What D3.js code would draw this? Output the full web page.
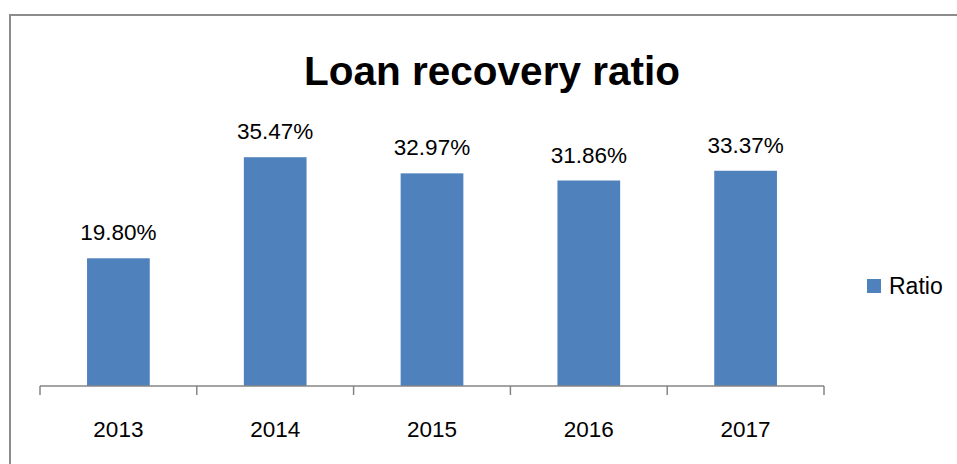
<!DOCTYPE html>
<html>
<head>
<meta charset="utf-8">
<script src="https://cdn.jsdelivr.net/npm/d3@7"></script>
<style>
  body { margin: 0; background: #fff; }
  text { font-family: "Liberation Sans", Arial, sans-serif; fill: #000; }
</style>
</head>
<body>
<div id="chart"></div>
<script>
// chart data
const years = ["2013", "2014", "2015", "2016", "2017"];
const ratios = [0.1980, 0.3547, 0.3297, 0.3186, 0.3337];
const seriesName = "Ratio";
const chartTitle = "Loan recovery ratio";

(function() {
  var width = 957,
      height = 464;

  const svg = d3.select("#chart").append("svg")
    .attr("width", width)
    .attr("height", height);

  // outer chart border (right and bottom fall outside the picture)
  svg.append("rect")
    .attr("x", 10).attr("y", 15)
    .attr("width", 960).attr("height", 470)
    .attr("fill", "none")
    .attr("stroke", "#8c8c8c")
    .attr("stroke-width", 2);

  // scales
  var x = d3.scaleBand()
    .domain(years)
    .range([40, 824])
    .paddingInner(0.6)
    .paddingOuter(0.3);

  var y = d3.scaleLinear()
    .domain([0, 0.40])
    .range([386, 128]);

  // title
  svg.append("text")
    .attr("x", 492).attr("y", 85)
    .attr("text-anchor", "middle")
    .style("font-size", "40.5px")
    .style("font-weight", "bold")
    .text(chartTitle);

  // bars
  svg.append("g")
    .selectAll("rect")
    .data(ratios)
    .join("rect")
    .attr("x", (d, i) => x(years[i]))
    .attr("y", d => y(d))
    .attr("width", x.bandwidth())
    .attr("height", d => y(0) - y(d))
    .attr("fill", "#4f81bd");

  // data labels
  svg.append("g")
    .selectAll("text")
    .data(ratios)
    .join("text")
    .attr("x", (d, i) => x(years[i]) + x.bandwidth() / 2)
    .attr("y", d => y(d) - 18)
    .attr("text-anchor", "middle")
    .style("font-size", "22.5px")
    .text(d => (d * 100).toFixed(2) + "%");

  // category axis
  var ax = svg.append("g")
    .attr("transform", "translate(0," + y(0) + ")");

  ax.append("line")
    .attr("x1", 40).attr("x2", 824)
    .attr("y1", 0).attr("y2", 0)
    .attr("stroke", "#868686")
    .attr("stroke-width", 1.5);

  // tick marks sit on the band edges
  var edges = years.map(d => x(d) - x.step() * x.paddingInner() / 2);
  edges.push(824);
  ax.selectAll(".edge")
    .data(edges)
    .join("line")
    .attr("class", "edge")
    .attr("x1", d => d).attr("x2", d => d)
    .attr("y1", 0).attr("y2", 9)
    .attr("stroke", "#868686")
    .attr("stroke-width", 1.5);

  svg.append("g")
    .selectAll("text")
    .data(years)
    .join("text")
    .attr("x", d => x(d) + x.bandwidth() / 2)
    .attr("y", 437)
    .attr("text-anchor", "middle")
    .style("font-size", "22.5px")
    .text(d => d);

  // legend
  var legend = svg.append("g").attr("transform", "translate(867,279)");
  legend.append("rect")
    .attr("width", 14).attr("height", 14)
    .attr("fill", "#4f81bd");
  legend.append("text")
    .attr("x", 22).attr("y", 15)
    .style("font-size", "23px")
    .text(seriesName);
})();
</script>
</body>
</html>
